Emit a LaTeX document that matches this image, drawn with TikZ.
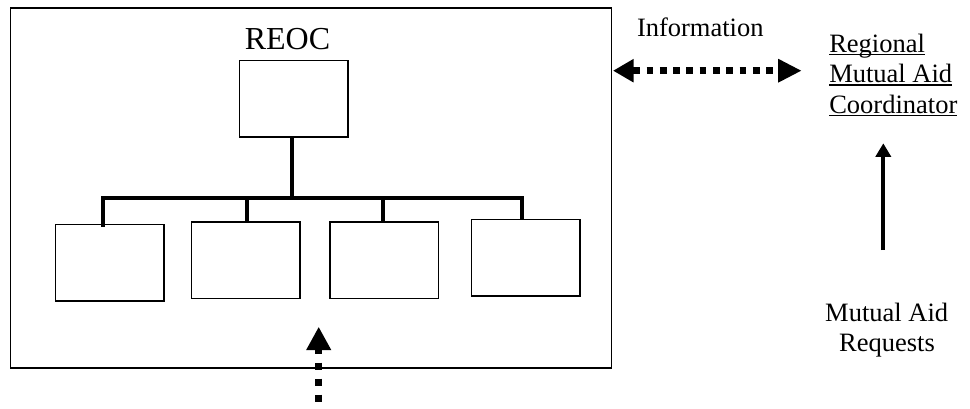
\documentclass[tikz,border=0pt]{standalone}
\usepackage{fontspec}
\setmainfont{Liberation Serif}
\usetikzlibrary{arrows.meta}
\begin{document}
\begin{tikzpicture}[x=1pt,y=-1pt,
  box/.style={draw, line width=1.5pt, inner sep=0pt, outer sep=0pt, minimum width=108.5pt, minimum height=76.5pt},
  frame/.style={draw, line width=1.6pt, inner sep=0pt, outer sep=0pt, minimum width=601.2pt, minimum height=360.4pt},
  lbl/.style={inner sep=0pt, outer sep=0pt, font=\fontsize{26.5}{31}\selectfont},
  conn/.style={line width=4pt},
  uline/.style={line width=1.4pt},
]
\useasboundingbox (0,0) rectangle (970,408);

% frame and boxes
\node[frame] (outer) at (310.9,188) {};
\node[box] (reoc) at (293.7,98.5) {};
\node[box] (b1) at (109.7,262.9) {};
\node[box] (b2) at (245.5,260) {};
\node[box] (b3) at (384.2,260.2) {};
\node[box] (b4) at (525.7,257.9) {};

% labels
\node[lbl, font=\fontsize{32}{36}\selectfont, anchor=base] (reoclbl) at (287.5,49) {REOC};
\node[lbl, anchor=base west] (info) at (637,36) {Information};
\node[lbl, anchor=base west] (r1) at (829.3,52) {Regional};
\node[lbl, anchor=base west] (r2) at (829.3,82.5) {Mutual Aid};
\node[lbl, anchor=base west] (r3) at (829.3,113) {Coordinator};
\node[lbl, anchor=base] (m1) at (886.7,321) {Mutual Aid};
\node[lbl, anchor=base] (m2) at (887,351.5) {Requests};

\draw[uline] ([yshift=-2.5pt]r1.base west) -- ([yshift=-2.5pt]r1.base east);
\draw[uline] ([yshift=-2.5pt]r2.base west) -- ([yshift=-2.5pt]r2.base east);
\draw[uline] ([yshift=-2.5pt]r3.base west) -- ([yshift=-2.5pt]r3.base east);

% tree connectors
\coordinate (barL) at (101,197.5);
\coordinate (barR) at (523.7,197.5);
\coordinate (stem) at (291.7,197.5);
\coordinate (d1) at (103,197.5);
\coordinate (d2) at (246.7,197.5);
\coordinate (d3) at (383.3,197.5);
\coordinate (d4) at (521.7,197.5);
\draw[conn] ([xshift=-2pt]reoc.south) -- (stem);
\draw[conn] (barL) -- (barR);
\draw[conn] (d1) -- ([yshift=-2pt]d1 |- b1.north);
\draw[conn] (d2) -- (d2 |- b2.north);
\draw[conn] (d3) -- (d3 |- b3.north);
\draw[conn] (d4) -- (d4 |- b4.north);

% dotted arrow into the frame
\coordinate (upTip) at (318.7,326.7);
\coordinate (upBot) at (318.7,403);
\draw[line width=7pt, dash pattern=on 7pt off 9pt, dash phase=2pt,
      {Triangle[length=23.3pt,width=23.3pt]}-] (upTip) -- (upBot);

% information double arrow
\coordinate (infoR) at (801.7,70.7);
\draw[line width=6.7pt, dash pattern=on 6.7pt off 6.6pt, dash phase=-1pt,
      {Triangle[length=20.5pt,width=22pt]}-{Triangle[length=23.5pt,width=22pt]}]
      ([xshift=1.5pt]outer.east |- infoR) -- (infoR);

% mutual aid requests arrow
\coordinate (rqTip) at (883.3,143.3);
\coordinate (rqBot) at (883.3,250);
\draw[line width=4pt, -{Triangle[length=13.5pt,width=15pt]}] (rqBot) -- (rqTip);
\end{tikzpicture}
\end{document}
